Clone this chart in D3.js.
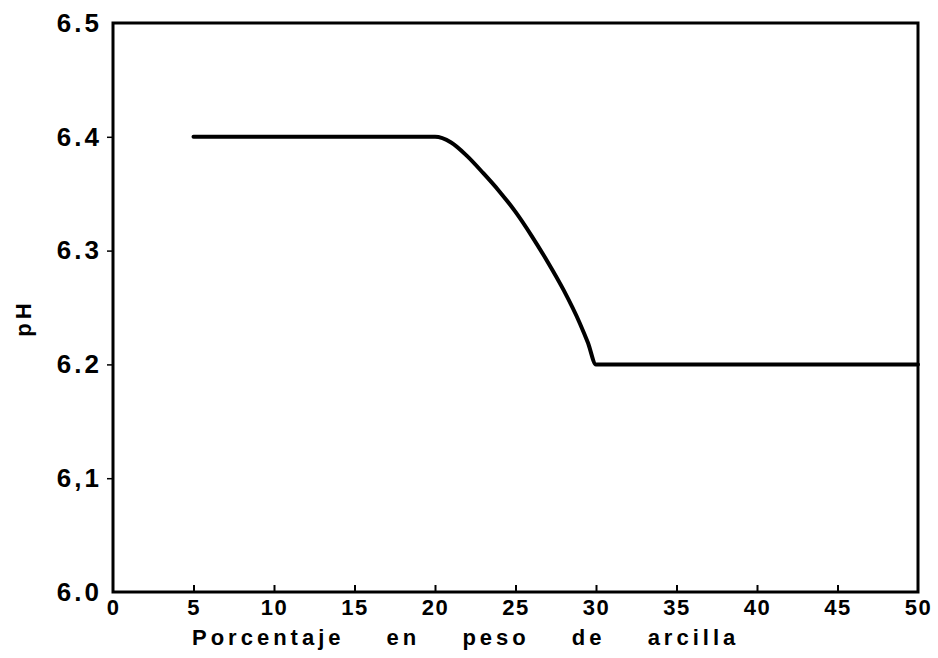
<!DOCTYPE html>
<html>
<head>
<meta charset="utf-8">
<script src="https://cdn.jsdelivr.net/npm/d3@7"></script>
<style>
  html, body { margin: 0; padding: 0; background: #fff; }
  svg { display: block; }
  text { font-family: "Liberation Sans", Arial, sans-serif; font-weight: bold; fill: #000; }
</style>
</head>
<body>
<svg id="chart" width="938" height="658"></svg>
<script>
// Data
const clayPercent = [5, 10, 15, 20, 21, 22, 23, 24, 25, 26, 27, 28, 29, 29.5, 30, 35, 40, 45, 50];
const pHValues    = [6.4, 6.4, 6.4, 6.4, 6.395, 6.383, 6.368, 6.352, 6.334, 6.313, 6.290, 6.265, 6.236, 6.219, 6.2, 6.2, 6.2, 6.2, 6.2];
const xTicks = [0, 5, 10, 15, 20, 25, 30, 35, 40, 45, 50];
const yTicks = [6.0, 6.1, 6.2, 6.3, 6.4, 6.5];
const yTickLabels = ["6.0", "6,1", "6.2", "6.3", "6.4", "6.5"];
const xTitle = "Porcentaje en peso de arcilla";
const yTitle = "pH";

const svg = d3.select("#chart");
const margin = { left: 113, right: 20, top: 23, bottom: 66 };
const W = 938, H = 658;

const x = d3.scaleLinear().domain([0, 50]).range([margin.left, W - margin.right]);
const y = d3.scaleLinear().domain([6.0, 6.5]).range([H - margin.bottom, margin.top]);

// Frame
svg.append("rect")
  .attr("x", x(0)).attr("y", y(6.5))
  .attr("width", x(50) - x(0)).attr("height", y(6.0) - y(6.5))
  .attr("fill", "none").attr("stroke", "#000").attr("stroke-width", 3);

// X axis: inward ticks
const xAxis = d3.axisBottom(x).tickValues(xTicks).tickSizeInner(-7).tickSizeOuter(0).tickPadding(7);
const gx = svg.append("g").attr("transform", `translate(0,${y(6.0)})`).call(xAxis);
gx.select(".domain").remove();
gx.selectAll(".tick line").attr("stroke", "#000").attr("stroke-width", 2)
  .filter(d => d === 0 || d === 50).remove();
gx.selectAll(".tick text").attr("font-size", 22).attr("font-family", "Liberation Sans, Arial, sans-serif")
  .attr("font-weight", "bold").attr("letter-spacing", 1.5).attr("dy", "0.71em");

// Y axis: outward ticks
const yAxis = d3.axisLeft(y).tickValues(yTicks).tickFormat((d, i) => yTickLabels[i])
  .tickSizeInner(6).tickSizeOuter(0).tickPadding(5);
const gy = svg.append("g").attr("transform", `translate(${x(0)},0)`).call(yAxis);
gy.select(".domain").remove();
gy.selectAll(".tick line").attr("stroke", "#000").attr("stroke-width", 1.5)
  .filter(d => d === 6.0 || d === 6.5).remove();
gy.selectAll(".tick text").attr("font-size", 26).attr("font-family", "Liberation Sans, Arial, sans-serif")
  .attr("font-weight", "bold").attr("letter-spacing", 3);

// Data line
const line = d3.line().x((d, i) => x(clayPercent[i])).y((d, i) => y(pHValues[i])).curve(d3.curveMonotoneX);
svg.append("path")
  .datum(pHValues)
  .attr("d", line)
  .attr("fill", "none").attr("stroke", "#000").attr("stroke-width", 4)
  .attr("stroke-linecap", "round");

// Axis titles
svg.append("text")
  .attr("x", 192).attr("y", 645)
  .attr("font-size", 22)
  .attr("letter-spacing", 4)
  .attr("word-spacing", 32)
  .attr("text-anchor", "start")
  .text(xTitle);

svg.append("text")
  .attr("transform", `translate(31,318) rotate(-90)`)
  .attr("font-size", 22)
  .attr("letter-spacing", 4)
  .attr("text-anchor", "middle")
  .text(yTitle);
</script>
</body>
</html>
